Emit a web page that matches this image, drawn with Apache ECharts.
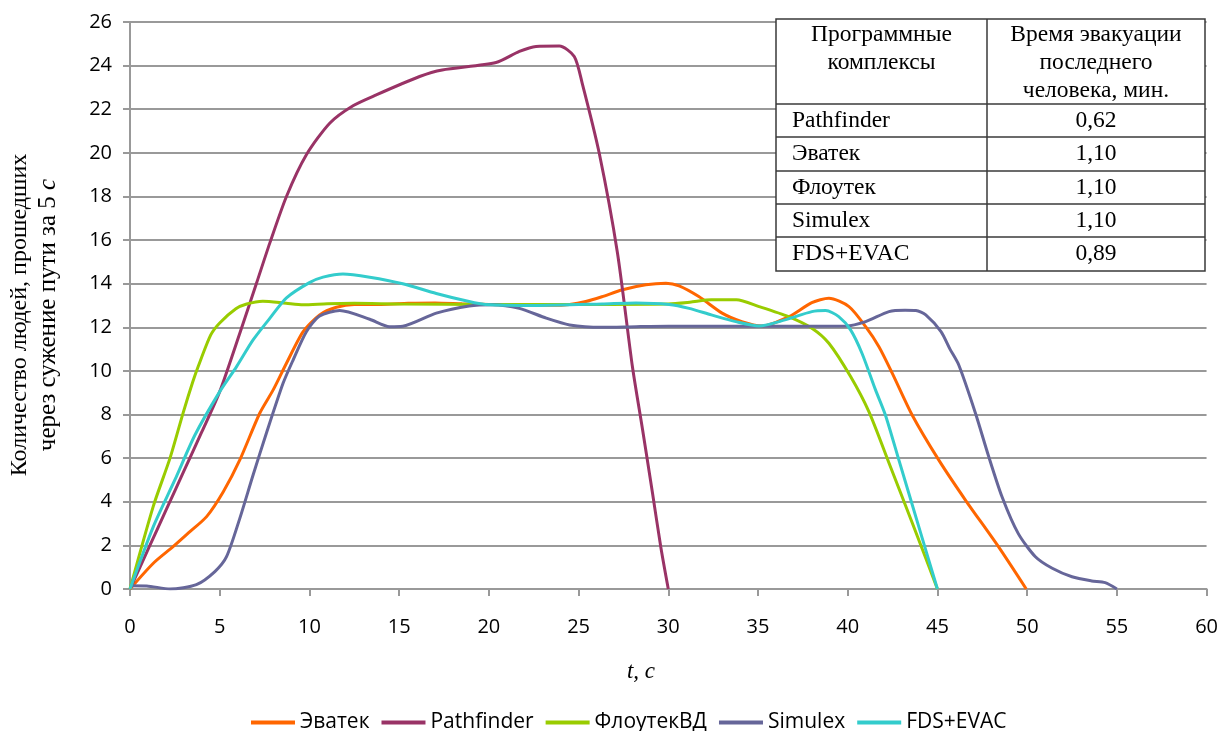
<!DOCTYPE html>
<html>
<head>
<meta charset="utf-8">
<script src="https://cdn.jsdelivr.net/npm/echarts@6/dist/echarts.min.js"></script>
<style>
html,body{margin:0;padding:0;background:#fff;}
#chart{width:1221px;height:731px;}
</style>
</head>
<body>
<div id="chart"></div>
<script>
// ---- data (t in s, value = people per 5 s) ----
const seriesNames = ['Эватек', 'Pathfinder', 'ФлоутекВД', 'Simulex', 'FDS+EVAC'];
const seriesColors = ['#FF6600', '#993366', '#99CC00', '#666699', '#33CCCC'];

const evatek = [[0,0],[1.3,1.18],[2.4,1.94],[3.34,2.63],[4.27,3.32],[5.2,4.46],[6.12,5.92],[7.23,8.06],[7.98,9.13],[8.72,10.35],[9.65,11.8],[10.57,12.57],[11.5,12.92],[12.5,13.05],[14,13.05],[15.5,13.1],[17,13.12],[18.5,13.08],[20,13.05],[22,13.02],[23.5,13.01],[24.5,13.05],[25.4,13.18],[26.3,13.4],[27.45,13.72],[28.75,13.95],[29.87,14.02],[30.6,13.9],[31.7,13.41],[33.0,12.65],[34.1,12.26],[35.2,12.06],[36.73,12.49],[38.0,13.13],[38.95,13.33],[40.07,12.95],[41.0,12.03],[41.74,11.11],[42.48,9.9],[43.59,7.98],[45.07,5.92],[46.56,4.08],[48.4,1.94],[49.95,0]];

const pathfinder = [[0,0],[1,1.8],[2,3.6],[3,5.4],[4,7.2],[5,9.05],[6.12,11.73],[7.05,14.02],[7.79,15.86],[8.72,18.0],[9.83,19.91],[11.13,21.36],[12.43,22.16],[13.73,22.66],[16.14,23.5],[17.4,23.8],[20.4,24.14],[21.7,24.65],[22.63,24.88],[23.93,24.9],[24.76,24.42],[25.2,23.2],[26.15,19.99],[27.17,15.4],[28.0,10.2],[28.57,7.29],[29.12,4.4],[29.58,1.94],[30,0]];

const floutek = [[0,0],[1.3,3.8],[2.23,6.0],[2.97,8.1],[3.5,9.5],[3.8,10.2],[4.5,11.65],[5,12.2],[5.9,12.85],[6.5,13.07],[7.4,13.2],[8.7,13.1],[9.65,13.03],[11,13.08],[12.5,13.1],[15,13.07],[20,13.05],[25,13.05],[30,13.07],[31.2,13.15],[32.4,13.26],[33.8,13.26],[35.06,12.95],[36.7,12.49],[38.0,11.96],[38.95,11.27],[40.16,9.74],[41.18,8.13],[42.3,5.78],[43.6,3.03],[45,0]];

const simulex = [[0,0.15],[0.93,0.14],[2.23,0],[3.7,0.2],[4.73,0.8],[5.38,1.48],[6.12,3.24],[6.86,5.23],[7.6,7.14],[8.53,9.43],[9.09,10.5],[9.83,11.8],[10.57,12.52],[11.69,12.77],[13.36,12.37],[14.47,12.03],[15.2,12.05],[17.07,12.65],[18.9,12.98],[20.2,13.04],[21.7,12.87],[23.2,12.42],[24.5,12.11],[26.3,12.0],[28.2,12.03],[30,12.05],[35,12.05],[39.9,12.06],[41.0,12.26],[42.3,12.72],[43.2,12.78],[43.8,12.77],[44.35,12.57],[45.2,11.8],[45.7,11.0],[46.19,10.27],[47.12,8.06],[47.86,6.07],[48.6,4.23],[49.5,2.55],[50.46,1.48],[51.4,0.95],[52.5,0.56],[53.6,0.37],[54.35,0.29],[55,0]];

const fdsEvac = [[0,0],[1.3,2.86],[2.5,5.0],[3.62,7.06],[5.0,9.05],[5.94,10.2],[6.86,11.42],[7.8,12.42],[8.72,13.35],[10.0,14.05],[10.76,14.3],[11.87,14.45],[13.36,14.3],[15.2,14.0],[17.07,13.55],[18.9,13.18],[19.8,13.05],[22.6,13.0],[26.3,13.07],[28.2,13.12],[30.05,13.05],[31.16,12.87],[32.4,12.57],[33.76,12.26],[35.06,12.06],[36.5,12.34],[38.0,12.72],[38.77,12.77],[39.5,12.49],[40.16,11.88],[40.8,10.8],[41.55,9.13],[42.1,7.98],[42.85,5.92],[43.96,2.86],[45,0]];

const seriesData = [evatek, pathfinder, floutek, simulex, fdsEvac];

// table content
const tableHeader1 = ['Программные', 'комплексы'];
const tableHeader2 = ['Время эвакуации', 'последнего', 'человека, мин.'];
const tablePrograms = ['Pathfinder', 'Эватек', 'Флоутек', 'Simulex', 'FDS+EVAC'];
const tableTimes = ['0,62', '1,10', '1,10', '1,10', '0,89'];

const yAxisTitle1 = 'Количество людей, прошедших';
const yAxisTitle2 = 'через сужение пути за 5 ';
const xAxisTitle = 't, c';

// ---- chart ----
const chart = echarts.init(document.getElementById('chart'));
const axisFont = '"Open Sans", Lato, sans-serif';
const serif = '"Liberation Serif", "Times New Roman", serif';
const gridCol = '#999999';

// table graphic
const tX0 = 776, tX1 = 1205, tXm = 987, tY0 = 19;
const rowLines = [104, 137, 171, 204, 237, 271];
const tFont = '23.5px ' + serif;
const tableEls = [];
tableEls.push({type:'rect', shape:{x:tX0, y:tY0, width:tX1-tX0, height:rowLines[5]-tY0}, style:{fill:'#fff', stroke:'#3a3a3a', lineWidth:1.5}, z:100});
tableEls.push({type:'line', shape:{x1:tXm, y1:tY0, x2:tXm, y2:rowLines[5]}, style:{stroke:'#3a3a3a', lineWidth:1.5}, z:101});
for (let i = 0; i < 5; i++) {
  tableEls.push({type:'line', shape:{x1:tX0, y1:rowLines[i], x2:tX1, y2:rowLines[i]}, style:{stroke:'#3a3a3a', lineWidth:1.5}, z:101});
}
tableHeader1.forEach((t, i) => {
  tableEls.push({type:'text', x:(tX0+tXm)/2, y:35 + i*28, style:{text:t, font:tFont, fill:'#000', textAlign:'center', textVerticalAlign:'middle'}, z:102});
});
tableHeader2.forEach((t, i) => {
  tableEls.push({type:'text', x:(tXm+tX1)/2, y:35 + i*28, style:{text:t, font:tFont, fill:'#000', textAlign:'center', textVerticalAlign:'middle'}, z:102});
});
tablePrograms.forEach((t, i) => {
  const cy = (rowLines[i] + rowLines[i+1]) / 2;
  tableEls.push({type:'text', x:792, y:cy, style:{text:t, font:tFont, fill:'#000', textAlign:'left', textVerticalAlign:'middle'}, z:102});
  tableEls.push({type:'text', x:(tXm+tX1)/2, y:cy, style:{text:tableTimes[i], font:tFont, fill:'#000', textAlign:'center', textVerticalAlign:'middle'}, z:102});
});

const option = {
  animation: false,
  backgroundColor: '#fff',
  grid: {left: 130, right: 13, top: 22, bottom: 142, containLabel: false},
  legend: {
    data: seriesNames,
    icon: 'rect',
    left: 246, top: 707,
    itemWidth: 44, itemHeight: 4, itemGap: 12,
    textStyle: {fontFamily: axisFont, fontSize: 21, color: '#000'}
  },
  xAxis: {
    type: 'value', min: 0, max: 60, interval: 5,
    axisLine: {show: true, lineStyle: {color: gridCol, width: 2}},
    axisTick: {show: true, length: 7, lineStyle: {color: gridCol, width: 2}},
    axisLabel: {fontFamily: axisFont, fontSize: 20, color: '#000', margin: 28},
    splitLine: {show: false}
  },
  yAxis: {
    type: 'value', min: 0, max: 26, interval: 2,
    axisLine: {show: true, lineStyle: {color: gridCol, width: 2}},
    axisTick: {show: true, length: 7, lineStyle: {color: gridCol, width: 2}},
    axisLabel: {fontFamily: axisFont, fontSize: 20, color: '#000', margin: 18},
    splitLine: {show: true, lineStyle: {color: gridCol, width: 2}}
  },
  graphic: [
    {type:'text', x:20, y:315, rotation:Math.PI/2,
     style:{text:yAxisTitle1, font:'24px ' + serif, fill:'#000', textAlign:'center', textVerticalAlign:'middle'}},
    {type:'text', x:48, y:315, rotation:Math.PI/2,
     style:{text:yAxisTitle2 + '{i|с}', font:'25px ' + serif, fill:'#000', textAlign:'center', textVerticalAlign:'middle',
            rich:{i:{fontStyle:'italic', fontFamily: serif, fontSize:25, fill:'#000'}}}},
    {type:'text', x:641, y:672,
     style:{text:xAxisTitle, font:'italic 23px ' + serif, fill:'#000', textAlign:'center', textVerticalAlign:'middle'}},
    ...tableEls
  ],
  series: seriesNames.map((n, i) => ({
    name: n, type: 'line', data: seriesData[i],
    symbol: 'none', smooth: 0.25,
    lineStyle: {color: seriesColors[i], width: 3},
    itemStyle: {color: seriesColors[i]},
    z: 3
  }))
};
chart.setOption(option);
</script>
</body>
</html>
